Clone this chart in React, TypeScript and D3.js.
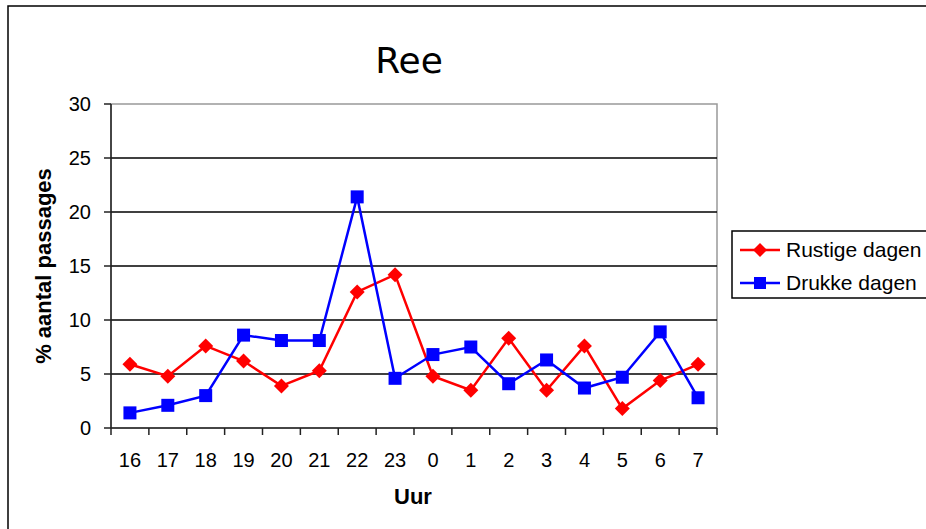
import React from "react";
import * as d3 from "d3";

const hours = ["16", "17", "18", "19", "20", "21", "22", "23", "0", "1", "2", "3", "4", "5", "6", "7"];
const rustige = [5.9, 4.8, 7.6, 6.2, 3.9, 5.3, 12.6, 14.2, 4.8, 3.5, 8.3, 3.5, 7.6, 1.8, 4.4, 5.9];
const drukke = [1.4, 2.1, 3.0, 8.6, 8.1, 8.1, 21.4, 4.6, 6.8, 7.5, 4.1, 6.3, 3.7, 4.7, 8.9, 2.8];
const yTicks = [0, 5, 10, 15, 20, 25, 30];
const seriesNames = ["Rustige dagen", "Drukke dagen"];

const W = 926;
const H = 529;
const plot = { left: 111, right: 717, top: 104, bottom: 428 };
const FONT = "'Liberation Sans', Arial, sans-serif";

export default function App() {
  const x = d3.scaleBand<string>().domain(hours).range([plot.left, plot.right]).padding(0);
  const y = d3.scaleLinear().domain([0, 30]).range([plot.bottom, plot.top]);
  const cx = (h: string) => (x(h) as number) + x.bandwidth() / 2;
  const line = d3
    .line<number>()
    .x((_, i) => cx(hours[i]))
    .y((d) => y(d));
  const boundaries = d3.range(hours.length + 1).map((i) => plot.left + i * x.bandwidth());
  const diamond = (px: number, py: number, r: number) =>
    `M${px},${py - r}L${px + r},${py}L${px},${py + r}L${px - r},${py}Z`;
  const sq = 13;

  return (
    <svg width={W} height={H} style={{ position: "absolute", left: 0, top: 0, background: "#fff" }}>
      <rect x={8} y={6} width={W + 10} height={H + 10} fill="#fff" stroke="#000" strokeWidth={1.5} />
      <text x={409} y={73} textAnchor="middle" fontFamily="'DejaVu Sans', sans-serif" fontSize={36} fill="#000">
        Ree
      </text>
      {/* plot border */}
      <rect
        x={plot.left}
        y={plot.top}
        width={plot.right - plot.left}
        height={plot.bottom - plot.top}
        fill="#fff"
        stroke="#999"
        strokeWidth={1.5}
      />
      {/* gridlines */}
      {yTicks.slice(1, -1).map((t) => (
        <line key={t} x1={plot.left} x2={plot.right} y1={y(t)} y2={y(t)} stroke="#000" strokeWidth={1.5} />
      ))}
      {/* axes */}
      <line x1={plot.left} x2={plot.left} y1={plot.top} y2={plot.bottom} stroke="#222" strokeWidth={1.5} />
      <line x1={plot.left} x2={plot.right} y1={plot.bottom} y2={plot.bottom} stroke="#222" strokeWidth={1.5} />
      {yTicks.map((t) => (
        <g key={t}>
          <line x1={plot.left - 7} x2={plot.left} y1={y(t)} y2={y(t)} stroke="#222" strokeWidth={1.5} />
          <text x={91} y={y(t) + 7} textAnchor="end" fontFamily={FONT} fontSize={20} fill="#000">
            {t}
          </text>
        </g>
      ))}
      {boundaries.map((bx, i) => (
        <line key={i} x1={bx} x2={bx} y1={plot.bottom} y2={plot.bottom + 7} stroke="#222" strokeWidth={1.5} />
      ))}
      {hours.map((h) => (
        <text key={h} x={cx(h)} y={467} textAnchor="middle" fontFamily={FONT} fontSize={20} fill="#000">
          {h}
        </text>
      ))}
      <text x={413} y={504} textAnchor="middle" fontFamily={FONT} fontSize={22} fontWeight="bold" fill="#000">
        Uur
      </text>
      <text
        transform={`translate(51,${266}) rotate(-90)`}
        textAnchor="middle"
        fontFamily={FONT}
        fontSize={22}
        fontWeight="bold"
        fill="#000"
      >
        % aantal passages
      </text>
      {/* series */}
      <path d={line(rustige) || ""} fill="none" stroke="#ff0000" strokeWidth={2.5} />
      {rustige.map((v, i) => (
        <path key={i} d={diamond(cx(hours[i]), y(v), 7.5)} fill="#ff0000" />
      ))}
      <path d={line(drukke) || ""} fill="none" stroke="#0000ff" strokeWidth={2.5} />
      {drukke.map((v, i) => (
        <rect key={i} x={cx(hours[i]) - sq / 2} y={y(v) - sq / 2} width={sq} height={sq} fill="#0000ff" />
      ))}
      {/* legend */}
      <rect x={732} y={231} width={220} height={67} fill="#fff" stroke="#000" strokeWidth={1.5} />
      <line x1={740} x2={780} y1={250} y2={250} stroke="#ff0000" strokeWidth={2.5} />
      <path d={diamond(760, 250, 7)} fill="#ff0000" />
      <text x={786} y={257} fontFamily={FONT} fontSize={21} fill="#000">
        {seriesNames[0]}
      </text>
      <line x1={740} x2={780} y1={283} y2={283} stroke="#0000ff" strokeWidth={2.5} />
      <rect x={760 - 6} y={283 - 6} width={12} height={12} fill="#0000ff" />
      <text x={786} y={290} fontFamily={FONT} fontSize={21} fill="#000">
        {seriesNames[1]}
      </text>
    </svg>
  );
}
